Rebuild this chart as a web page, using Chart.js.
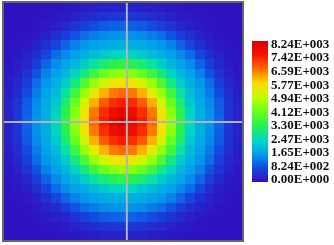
<!DOCTYPE html>
<html><head><meta charset="utf-8">
<script src="https://cdn.jsdelivr.net/npm/chart.js@4"></script>
<style>html,body{margin:0;padding:0;background:#fff;overflow:hidden}canvas{display:block}</style>
</head><body>
<canvas id="c" width="334" height="245"></canvas>
<script>
// ---- data ----
const vMax = 8240;
const heatRows = [
[14,19,25,34,45,65,90,120,160,190,230,250,255,250,230,190,160,120,90,65,45,34,25,19,14],
[19,26,36,52,78,120,165,240,330,420,510,550,570,550,510,420,330,240,165,120,78,52,36,26,19],
[25,36,55,85,140,220,340,510,680,840,980,1060,1090,1060,980,840,680,510,340,220,140,85,55,36,25],
[34,52,85,150,250,420,650,920,1170,1320,1460,1520,1540,1520,1460,1320,1170,920,650,420,250,150,85,52,34],
[45,78,140,250,460,750,1090,1370,1560,1690,1780,1850,1880,1850,1780,1690,1560,1370,1090,750,460,250,140,78,45],
[65,120,220,420,750,1150,1460,1670,1850,2040,2210,2370,2420,2370,2210,2040,1850,1670,1460,1150,750,420,220,120,65],
[90,165,340,650,1090,1460,1710,1950,2260,2660,3030,3290,3390,3290,3030,2660,2260,1950,1710,1460,1090,650,340,165,90],
[120,240,510,920,1370,1670,1950,2370,2950,3580,4100,4430,4560,4430,4100,3580,2950,2370,1950,1670,1370,920,510,240,120],
[160,330,680,1170,1560,1850,2260,2950,3780,4560,5180,5540,5680,5540,5180,4560,3780,2950,2260,1850,1560,1170,680,330,160],
[190,420,840,1320,1690,2040,2660,3580,4560,5420,6090,6510,6650,6510,6090,5420,4560,3580,2660,2040,1690,1320,840,420,190],
[230,510,980,1460,1780,2210,3030,4100,5180,6090,6770,7200,7350,7200,6770,6090,5180,4100,3030,2210,1780,1460,980,510,230],
[250,550,1060,1520,1850,2370,3290,4430,5540,6510,7200,7690,7910,7690,7200,6510,5540,4430,3290,2370,1850,1520,1060,550,250],
[255,570,1090,1540,1880,2420,3390,4560,5680,6650,7350,7910,8240,7910,7350,6650,5680,4560,3390,2420,1880,1540,1090,570,255],
[250,550,1060,1520,1850,2370,3290,4430,5540,6510,7200,7690,7910,7690,7200,6510,5540,4430,3290,2370,1850,1520,1060,550,250],
[230,510,980,1460,1780,2210,3030,4100,5180,6090,6770,7200,7350,7200,6770,6090,5180,4100,3030,2210,1780,1460,980,510,230],
[190,420,840,1320,1690,2040,2660,3580,4560,5420,6090,6510,6650,6510,6090,5420,4560,3580,2660,2040,1690,1320,840,420,190],
[160,330,680,1170,1560,1850,2260,2950,3780,4560,5180,5540,5680,5540,5180,4560,3780,2950,2260,1850,1560,1170,680,330,160],
[120,240,510,920,1370,1670,1950,2370,2950,3580,4100,4430,4560,4430,4100,3580,2950,2370,1950,1670,1370,920,510,240,120],
[90,165,340,650,1090,1460,1710,1950,2260,2660,3030,3290,3390,3290,3030,2660,2260,1950,1710,1460,1090,650,340,165,90],
[65,120,220,420,750,1150,1460,1670,1850,2040,2210,2370,2420,2370,2210,2040,1850,1670,1460,1150,750,420,220,120,65],
[45,78,140,250,460,750,1090,1370,1560,1690,1780,1850,1880,1850,1780,1690,1560,1370,1090,750,460,250,140,78,45],
[34,52,85,150,250,420,650,920,1170,1320,1460,1520,1540,1520,1460,1320,1170,920,650,420,250,150,85,52,34],
[25,36,55,85,140,220,340,510,680,840,980,1060,1090,1060,980,840,680,510,340,220,140,85,55,36,25],
[19,26,36,52,78,120,165,240,330,420,510,550,570,550,510,420,330,240,165,120,78,52,36,26,19],
[14,19,25,34,45,65,90,120,160,190,230,250,255,250,230,190,160,120,90,65,45,34,25,19,14]
];
const crossX = 12.9;   // vertical guide line (grid units)
const crossY = 12.55;  // horizontal guide line (grid units)
const cbValues = [8240,7416,6592,5768,4944,4120,3296,2472,1648,824,0];
const cbLabels = ['8.24E+003','7.42E+003','6.59E+003','5.77E+003','4.94E+003','4.12E+003','3.30E+003','2.47E+003','1.65E+003','8.24E+002','0.00E+000'];

// ---- colour map ----
const stops = [
 [0.0,[48,16,190]],[0.1,[20,72,226]],[0.2,[0,160,236]],[0.3,[0,220,190]],
 [0.4,[40,240,80]],[0.5,[105,255,30]],[0.6,[190,255,0]],[0.7,[255,220,0]],
 [0.8,[255,110,0]],[0.9,[250,20,0]],[1.0,[215,0,0]]
];
function colorFor(t){
  t = Math.max(0, Math.min(1, t));
  for (let k=1;k<stops.length;k++){
    if (t <= stops[k][0]){
      const [t0,c0]=stops[k-1],[t1,c1]=stops[k];
      const f=(t-t0)/(t1-t0);
      return 'rgb('+c0.map((c,i)=>Math.round(c+(c1[i]-c)*f)).join(',')+')';
    }
  }
  return 'rgb(215,0,0)';
}

const nCols = heatRows[0].length, nRows = heatRows.length;
const cells = [];
heatRows.forEach((row,j)=>row.forEach((v,i)=>cells.push({x:i+0.5,y:j+0.5,v})));

const heatPlugin = {
  id:'heat',
  beforeDatasetsDraw(chart){
    const {ctx, scales:{x,y}, chartArea:a} = chart;
    ctx.save();
    for (const p of chart.data.datasets[0].data){
      const x0=Math.round(x.getPixelForValue(p.x-0.5)), x1=Math.round(x.getPixelForValue(p.x+0.5));
      const ya=Math.round(y.getPixelForValue(p.y-0.5)), yb=Math.round(y.getPixelForValue(p.y+0.5));
      ctx.fillStyle=colorFor(p.v/vMax);
      ctx.fillRect(x0,Math.min(ya,yb),x1-x0,Math.abs(yb-ya));
    }
    ctx.strokeStyle='#b4b4b4'; ctx.lineWidth=2;
    const cx=x.getPixelForValue(crossX), cy=y.getPixelForValue(crossY);
    ctx.beginPath(); ctx.moveTo(cx,a.top); ctx.lineTo(cx,a.bottom); ctx.stroke();
    ctx.beginPath(); ctx.moveTo(a.left,cy); ctx.lineTo(a.right,cy); ctx.stroke();
    ctx.strokeStyle='#666'; ctx.lineWidth=2;
    ctx.strokeRect(a.left,a.top,a.right-a.left,a.bottom-a.top);
    ctx.restore();
  },
  afterDraw(chart){
    const ctx=chart.ctx;
    const bx=252,bw=16,bTop=41,bBot=182;
    const g=ctx.createLinearGradient(0,bBot,0,bTop);
    for(let k=0;k<=20;k++){g.addColorStop(k/20,colorFor(k/20));}
    ctx.save();
    ctx.fillStyle=g; ctx.fillRect(bx,bTop,bw,bBot-bTop);
    ctx.fillStyle='#111'; ctx.font='bold 13px "Liberation Serif", "Times New Roman", serif';
    ctx.textBaseline='middle'; ctx.textAlign='left';
    const yTop=44.5,yBot=180;
    cbLabels.forEach((lab,k)=>{
      const yy=yTop+(vMax-cbValues[k])/vMax*(yBot-yTop);
      ctx.fillText(lab,271,yy);
    });
    ctx.restore();
  }
};

new Chart(document.getElementById('c'),{
  type:'scatter',
  data:{datasets:[{data:cells,pointRadius:0,pointHoverRadius:0}]},
  options:{
    responsive:false,animation:false,devicePixelRatio:1,
    layout:{padding:{left:3,top:2,right:91,bottom:4}},
    scales:{
      x:{type:'linear',min:0,max:nCols,display:false},
      y:{type:'linear',min:0,max:nRows,reverse:true,display:false}
    },
    plugins:{legend:{display:false},tooltip:{enabled:false}}
  },
  plugins:[heatPlugin]
});
</script>
</body></html>
